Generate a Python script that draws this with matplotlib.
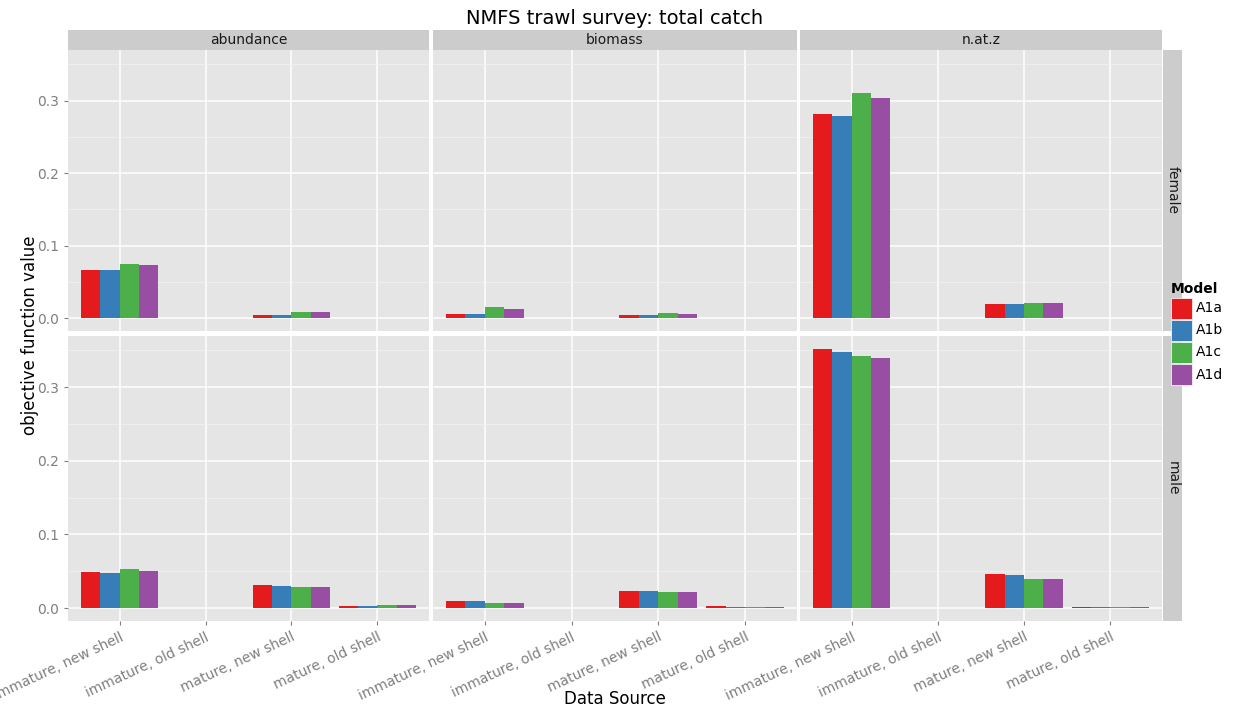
import numpy as np
from matplotlib import pyplot as plt
from matplotlib.patches import Rectangle

# data
sources = ["immature, new shell", "immature, old shell", "mature, new shell", "mature, old shell"]
models = ["A1a", "A1b", "A1c", "A1d"]
components = ["abundance", "biomass", "n.at.z"]
sexes = ["female", "male"]

# values[sex][component] -> rows = model, cols = source
female_abundance = [[0.067, 0.0, 0.005, 0.0010],
                    [0.066, 0.0, 0.005, 0.0010],
                    [0.075, 0.0, 0.009, 0.0010],
                    [0.074, 0.0, 0.008, 0.0010]]
female_biomass = [[0.006, 0.0, 0.004, 0.0008],
                  [0.006, 0.0, 0.004, 0.0008],
                  [0.016, 0.0, 0.0078, 0.0008],
                  [0.013, 0.0, 0.0065, 0.0008]]
female_natz = [[0.282, 0.0, 0.020, 0.0007],
               [0.279, 0.0, 0.020, 0.0005],
               [0.310, 0.0, 0.021, 0.0002],
               [0.303, 0.0, 0.021, 0.0002]]
male_abundance = [[0.049, 0.0, 0.031, 0.0028],
                  [0.048, 0.0, 0.030, 0.0025],
                  [0.053, 0.0, 0.029, 0.0037],
                  [0.050, 0.0, 0.029, 0.0035]]
male_biomass = [[0.0092, 0.0, 0.0234, 0.0025],
                [0.0092, 0.0, 0.0234, 0.0020],
                [0.0073, 0.0, 0.022, 0.0020],
                [0.0072, 0.0, 0.022, 0.0020]]
male_natz = [[0.352, 0.0, 0.046, 0.0018],
             [0.348, 0.0, 0.045, 0.0015],
             [0.343, 0.0, 0.039, 0.0010],
             [0.340, 0.0, 0.039, 0.0010]]

values = {"female": [female_abundance, female_biomass, female_natz],
          "male": [male_abundance, male_biomass, male_natz]}

colors = ["#E41A1C", "#377EB8", "#4DAF4A", "#984EA3"]

W, H = 1259, 713
fig = plt.figure(figsize=(W / 100, H / 100), dpi=100)
fig.patch.set_facecolor("white")

def px(x0, y0, x1, y1):
    return [x0 / W, 1 - y1 / H, (x1 - x0) / W, (y1 - y0) / H]

col_x = [(68, 429), (433, 797), (800, 1162)]
row_y = [(50, 331), (336, 621)]

ymax = 0.352
pad = ymax * 0.05
ylim = (-pad, ymax + pad)
x = np.arange(len(sources))
bw = 0.9 / len(models)

for r, sex in enumerate(sexes):
    for c, comp in enumerate(components):
        ax = fig.add_axes(px(col_x[c][0], row_y[r][0], col_x[c][1], row_y[r][1]))
        ax.set_facecolor("#E5E5E5")
        for s in ax.spines.values():
            s.set_visible(False)
        ax.set_xlim(-0.6, len(sources) - 0.4)
        ax.set_ylim(*ylim)
        ax.set_yticks([0.0, 0.1, 0.2, 0.3])
        ax.set_yticks([0.05, 0.15, 0.25, 0.35], minor=True)
        ax.set_xticks(x)
        ax.grid(True, which="major", color="white", lw=1.1)
        ax.grid(True, which="minor", axis="y", color="#F2F2F2", lw=0.5)
        ax.set_axisbelow(True)
        vals = np.array(values[sex][c])
        for m in range(len(models)):
            ax.bar(x - 0.45 + bw * (m + 0.5), vals[m], width=bw,
                   color=colors[m], label=models[m], zorder=3)
        ax.tick_params(which="both", length=0)
        ax.tick_params(axis="both", which="major", length=3, color="#7F7F7F",
                       labelcolor="#7F7F7F", labelsize=10)
        if c == 0:
            ax.set_yticklabels(["0.0", "0.1", "0.2", "0.3"])
        else:
            ax.set_yticklabels([])
            ax.tick_params(axis="y", which="major", length=0)
        if r == 1:
            ax.set_xticklabels(sources, rotation=25, ha="right", rotation_mode="anchor")
        else:
            ax.set_xticklabels([])
            ax.tick_params(axis="x", which="major", length=0)
        if r == 0:
            sax = fig.add_axes(px(col_x[c][0], 30, col_x[c][1], 50))
            sax.set_facecolor("#CCCCCC")
            sax.set_xticks([]); sax.set_yticks([])
            for s in sax.spines.values():
                s.set_visible(False)
            sax.text(0.5, 0.5, comp, ha="center", va="center", fontsize=10,
                     color="#1A1A1A", transform=sax.transAxes)
        if c == 2:
            sax = fig.add_axes(px(1163, row_y[r][0], 1182, row_y[r][1]))
            sax.set_facecolor("#CCCCCC")
            sax.set_xticks([]); sax.set_yticks([])
            for s in sax.spines.values():
                s.set_visible(False)
            sax.text(0.5, 0.5, sex, ha="center", va="center", fontsize=10,
                     rotation=-90, color="#1A1A1A", transform=sax.transAxes)

fig.text(615 / W, 1 - 18 / H, "NMFS trawl survey: total catch", ha="center",
         va="center", fontsize=14)
fig.text(615 / W, 1 - 699 / H, "Data Source", ha="center", va="center", fontsize=12)
fig.text(30 / W, 1 - 335 / H, "objective function value", ha="center",
         va="center", rotation=90, fontsize=12)

# legend
fig.text(1171 / W, 1 - 289 / H, "Model", ha="left", va="center",
         fontsize=10, fontweight="bold")
for m in range(len(models)):
    y0 = 298 + m * 22
    fig.patches.append(Rectangle((1171 / W, 1 - (y0 + 21) / H), 21 / W, 21 / H,
                                 transform=fig.transFigure, facecolor=colors[m],
                                 edgecolor="white", lw=0.5))
    fig.text(1196 / W, 1 - (y0 + 10.5) / H, models[m], ha="left", va="center",
             fontsize=10)

fig.savefig("out.png", dpi=100)
